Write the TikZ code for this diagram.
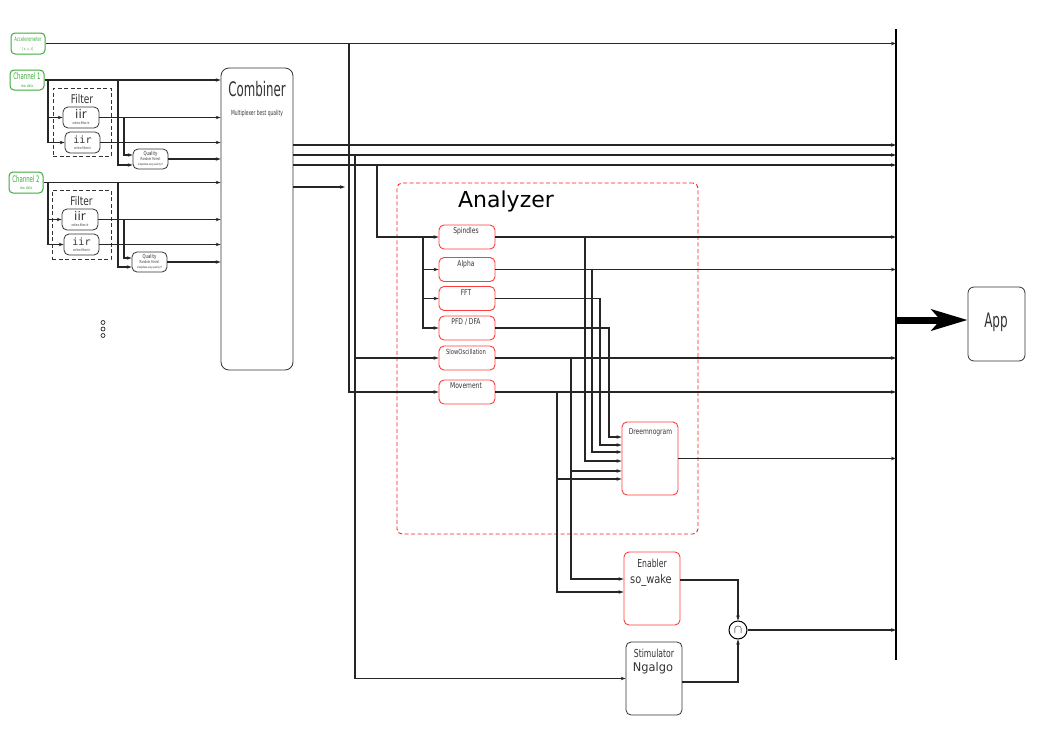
\documentclass[tikz,border=0pt]{standalone}
\usepackage{fontspec}
\setmainfont{DejaVu Sans}
\newfontfamily\monof{DejaVu Sans Mono}
\usepackage{graphicx}
\usetikzlibrary{arrows.meta,calc}
\definecolor{grn}{HTML}{3CAA3C}
\definecolor{rd}{HTML}{FF3B3B}
\definecolor{txt}{HTML}{333333}
\newcommand\nrw[2]{\scalebox{#1}[1]{#2}}
\newcommand\fs[1]{\fontsize{#1}{#1}\selectfont}
\begin{document}
\begin{tikzpicture}[x=1pt,y=-1pt,
  conn/.style={line width=1.2pt, draw=black!85},
  arr/.style={conn,-{Stealth[length=5pt,width=3.5pt]}},
  gbox/.style={draw=grn, line width=1pt, rounded corners=4pt, inner sep=0pt},
  bbox/.style={draw=black!80, line width=0.8pt, rounded corners=5pt, inner sep=0pt},
  rbox/.style={draw=rd, line width=0.9pt, rounded corners=5pt, inner sep=0pt},
  fbox/.style={draw=black!80, dash pattern=on 4pt off 2.5pt, line width=0.9pt, inner sep=0pt},
  lbl/.style={inner sep=0pt, text=txt},
  glbl/.style={inner sep=0pt, text=grn},
  modbox/.style={rbox, minimum width=56pt, minimum height=24pt},
  bigbox/.style={minimum width=56pt, minimum height=73pt},
  modlbl/.style={lbl, font=\fs{8}},
]
\useasboundingbox (0,0) rectangle (1053,745);

% ---------- inputs ----------
\node[gbox, minimum width=34pt, minimum height=21pt] (acc) at (28,43.5) {};
\node[glbl, font=\fs{6}] (accT) at (28,39.5) {\nrw{0.62}{Accelerometer}};
\node[glbl, font=\fs{4}] (accS) at (28,49) {\nrw{0.7}{[x, y, z]}};

\node[gbox, minimum width=34pt, minimum height=20pt] (ch1) at (27,80) {};
\node[glbl, font=\fs{9}] (ch1T) at (27,76.5) {\nrw{0.6}{Channel 1}};
\node[glbl, font=\fs{4}] (ch1S) at (27,86) {\nrw{0.7}{raw data}};

\node[gbox, minimum width=34pt, minimum height=21pt] (ch2) at (26,182.5) {};
\node[glbl, font=\fs{9}] (ch2T) at (26,179) {\nrw{0.6}{Channel 2}};
\node[glbl, font=\fs{4}] (ch2S) at (26,188.5) {\nrw{0.7}{raw data}};

% ---------- filters ----------
\node[fbox, minimum width=58pt, minimum height=68pt] (filt1) at (82,122) {};
\node[lbl, font=\fs{12}] (filt1T) at (82,99) {\nrw{0.75}{Filter}};
\node[bbox, minimum width=36pt, minimum height=21pt] (iir1a) at (81,117.5) {};
\node[lbl, font=\fs{12}] (iir1aT) at (81,114) {iir};
\node[lbl, font=\fs{3.5}] (iir1aS) at (81,123.5) {\nrw{0.7}{online.filter.iir}};
\node[bbox, minimum width=35pt, minimum height=21pt] (iir1b) at (82.5,142.5) {};
\node[lbl, font=\monof\fs{10}] (iir1bT) at (82.5,139.5) {iir};
\node[lbl, font=\fs{3.5}] (iir1bS) at (82.5,148.5) {\nrw{0.7}{online.filter.iir}};
\node[bbox, minimum width=35pt, minimum height=20pt] (q1) at (150.5,159) {};
\node[lbl, font=\fs{5.5}] (q1T) at (150.5,153.5) {\nrw{0.7}{Quality}};
\node[lbl, font=\fs{4}] (q1S) at (150.5,159.5) {\nrw{0.65}{Random Forest}};
\node[lbl, font=\fs{3}] (q1U) at (150.5,165) {\nrw{0.7}{sleepdata.eeg.quality.rf}};

\node[fbox, minimum width=59pt, minimum height=69pt] (filt2) at (81.5,224.5) {};
\node[lbl, font=\fs{12}] (filt2T) at (81.5,201) {\nrw{0.75}{Filter}};
\node[bbox, minimum width=36pt, minimum height=21pt] (iir2a) at (80,219.5) {};
\node[lbl, font=\fs{12}] (iir2aT) at (80,216) {iir};
\node[lbl, font=\fs{3.5}] (iir2aS) at (80,225.5) {\nrw{0.7}{online.filter.iir}};
\node[bbox, minimum width=35pt, minimum height=21pt] (iir2b) at (81.5,244.5) {};
\node[lbl, font=\monof\fs{10}] (iir2bT) at (81.5,241.5) {iir};
\node[lbl, font=\fs{3.5}] (iir2bS) at (81.5,250.5) {\nrw{0.7}{online.filter.iir}};
\node[bbox, minimum width=35pt, minimum height=20pt] (q2) at (149.5,262) {};
\node[lbl, font=\fs{5.5}] (q2T) at (149.5,256.5) {\nrw{0.7}{Quality}};
\node[lbl, font=\fs{4}] (q2S) at (149.5,262.5) {\nrw{0.65}{Random Forest}};
\node[lbl, font=\fs{3}] (q2U) at (149.5,268) {\nrw{0.7}{sleepdata.eeg.quality.rf}};

\foreach \i/\yy in {1/322.5,2/329,3/335.5}
  \node[circle, draw=black!85, line width=0.7pt, minimum size=4pt, inner sep=0pt] (dot\i) at (103,\yy) {};

% ---------- combiner ----------
\node[bbox, rounded corners=8pt, minimum width=72pt, minimum height=302pt] (comb) at (257,219) {};
\node[lbl, font=\fs{20}] (combT) at (257,89) {\nrw{0.59}{Combiner}};
\node[lbl, font=\fs{7}] (combS) at (257,114) {\nrw{0.63}{Multiplexer best quality}};

% ---------- analyzer ----------
\node[draw=red!90, dash pattern=on 4pt off 2.5pt, line width=0.9pt, rounded corners=5pt, minimum width=301pt, minimum height=351pt, inner sep=0pt] (ana) at (547.5,358.5) {};
\node[inner sep=0pt, font=\fs{22}] (anaT) at (506,201) {Analyzer};

\node[modbox] (spin) at (467,237) {};
\node[modlbl] (spinT) at (466,231) {\nrw{0.75}{Spindles}};
\node[modbox] (alpha) at (467,269.5) {};
\node[modlbl] (alphaT) at (466,264) {\nrw{0.75}{Alpha}};
\node[modbox] (fft) at (467,298.5) {};
\node[modlbl] (fftT) at (466,293) {\nrw{0.75}{FFT}};
\node[modbox] (pfd) at (467,328) {};
\node[modlbl] (pfdT) at (466,322) {\nrw{0.75}{PFD / DFA}};
\node[modbox] (slow) at (467,358) {};
\node[lbl, font=\fs{7}] (slowT) at (466,352) {\nrw{0.75}{SlowOscillation}};
\node[modbox] (move) at (467,392) {};
\node[modlbl] (moveT) at (466,385.5) {\nrw{0.75}{Movement}};

\node[rbox, bigbox] (dreem) at (650,458.5) {};
\node[modlbl] (dreemT) at (650.5,432) {\nrw{0.75}{Dreemnogram}};

\node[rbox, bigbox] (enab) at (652,588.5) {};
\node[lbl, font=\fs{11}] (enabT) at (652,563) {\nrw{0.7}{Enabler}};
\node[lbl, font=\fs{12}] (enabS) at (651,580) {\nrw{0.82}{so\_wake}};

\node[bbox, bigbox] (stim) at (654,678.5) {};
\node[lbl, font=\fs{11}] (stimT) at (654,653) {\nrw{0.7}{Stimulator}};
\node[lbl, font=\fs{12}] (stimS) at (653,668) {\nrw{0.95}{Ngalgo}};

\node[circle, draw=black, line width=1pt, minimum size=18pt, inner sep=0pt, font=\fs{13}] (cap) at (738,630) {$\cap$};

\node[bbox, rounded corners=6pt, minimum width=57pt, minimum height=74pt] (app) at (996.5,324) {};
\node[lbl, font=\fs{20}] (appT) at (996,322) {\nrw{0.6}{App}};

% ---------- bus ----------
\coordinate (busT) at (896,29);
\coordinate (busB) at (896,660);
\draw[line width=1.4pt] (busT) -- (busB);
\coordinate (appS) at (896,320);
\draw[line width=7pt, -{Stealth[length=36pt,width=21pt,inset=9pt]}] (appS) -- (appS -| app.west);

% ---------- connectors: inputs ----------
\draw[arr] (acc.east) -- (acc.east -| busT);
\coordinate (jA) at (349,44);
\draw[arr] (jA) |- (move.west);

\draw[arr] (ch1.east) -- (ch1.east -| comb.west);
\coordinate (j1a) at (48,80);
\coordinate (j1b) at (118,80);
\coordinate (j1c) at (124,117.5);
\draw[arr] (j1a) |- (iir1a.west);
\draw[arr] (j1a) |- (iir1b.west);
\draw[arr] (j1b) |- ([yshift=-6pt]q1.west);
\draw[arr] (iir1a.east) -- (iir1a.east -| comb.west);
\draw[arr] (j1c) |- ([yshift=4pt]q1.west);
\draw[arr] (iir1b.east) -- (iir1b.east -| comb.west);
\draw[arr] (q1.east) -- (q1.east -| comb.west);

\draw[arr] (ch2.east) -- (ch2.east -| comb.west);
\coordinate (j2a) at (48,182.5);
\coordinate (j2b) at (118,182.5);
\coordinate (j2c) at (124,219.5);
\draw[arr] (j2a) |- (iir2a.west);
\draw[arr] (j2a) |- (iir2b.west);
\draw[arr] (j2b) |- ([yshift=-5pt]q2.west);
\draw[arr] (iir2a.east) -- (iir2a.east -| comb.west);
\draw[arr] (j2c) |- ([yshift=4pt]q2.west);
\draw[arr] (iir2b.east) -- (iir2b.east -| comb.west);
\draw[arr] (q2.east) -- (q2.east -| comb.west);

% ---------- combiner outputs ----------
\coordinate (c1) at (293,145);
\coordinate (c2) at (293,155);
\coordinate (c3) at (293,165);
\coordinate (c4) at (293,187);
\coordinate (c4e) at (345,187);
\draw[arr] (c1) -- (c1 -| busT);
\draw[arr] (c2) -- (c2 -| busT);
\draw[arr] (c3) -- (c3 -| busT);
\draw[arr] (c4) -- (c4e);

\coordinate (j5) at (355,155);
\draw[arr] (j5) |- (slow.west);
\draw[arr] (j5) |- (stim.west);
\coordinate (j6) at (377,165);
\draw[arr] (j6) |- (spin.west);
\coordinate (j7) at (423,237);
\draw[arr] (j7) |- (alpha.west);
\draw[arr] (j7) |- (fft.west);
\draw[arr] (j7) |- (pfd.west);

% ---------- analyzer outputs ----------
\foreach \n in {spin,alpha,slow,move,dreem,cap}
  \draw[arr] (\n.east) -- (\n.east -| busT);

\coordinate (xS) at (585,0);
\coordinate (xA) at (592,0);
\coordinate (xF) at (600,0);
\coordinate (xP) at (609,0);
\coordinate (xSl) at (571,0);
\coordinate (xM) at (557,0);
\coordinate (dP) at ([yshift=21.5pt]dreem.west);
\coordinate (dF) at ([yshift=13.5pt]dreem.west);
\coordinate (dA) at ([yshift=6.5pt]dreem.west);
\coordinate (dS) at ([yshift=-2.5pt]dreem.west);
\coordinate (dSl) at ([yshift=-12.5pt]dreem.west);
\coordinate (dM) at ([yshift=-20.5pt]dreem.west);
\coordinate (eSl) at ([yshift=9.5pt]enab.west);
\coordinate (eM) at ([yshift=-3.5pt]enab.west);

\draw[arr] (pfd.east) -| (xP |- dP) -- (dP);
\draw[arr] (fft.east) -| (xF |- dF) -- (dF);
\draw[arr] (alpha.east -| xA) |- (dA);
\draw[arr] (spin.east -| xS) |- (dS);
\draw[arr] (slow.east -| xSl) |- (dSl);
\draw[arr] (slow.east -| xSl) |- (eSl);
\draw[arr] (move.east -| xM) |- (dM);
\draw[arr] (move.east -| xM) |- (eM);

\draw[arr] ([yshift=8.5pt]enab.east) -| (cap.north);
\draw[arr] ([yshift=-3.5pt]stim.east) -| (cap.south);
\end{tikzpicture}
\end{document}
